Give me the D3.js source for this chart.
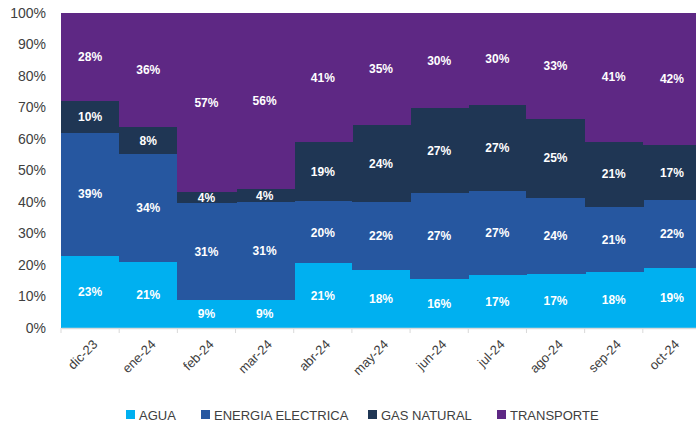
<!DOCTYPE html>
<html>
<head>
<meta charset="utf-8">
<script src="https://cdn.jsdelivr.net/npm/d3@7"></script>
<style>
  body { margin: 0; background: #fff; }
  text { font-family: "Liberation Sans", Arial, sans-serif; }
</style>
</head>
<body>
<div id="chart"></div>
<script>
// months and shares (%) per category
var months = ["dic-23", "ene-24", "feb-24", "mar-24", "abr-24", "may-24", "jun-24", "jul-24", "ago-24", "sep-24", "oct-24"];
var agua       = [23.0, 21.0,  8.9,  8.8, 20.5, 18.4, 15.6, 16.8, 17.1, 17.8, 19.1];
var energia    = [39.0, 34.3, 30.7, 31.1, 19.7, 21.6, 27.2, 26.6, 24.3, 20.7, 21.5];
var gas        = [10.0,  8.5,  3.5,  4.1, 18.7, 24.3, 27.0, 27.3, 25.1, 20.7, 17.5];
var transporte = [28.0, 36.2, 56.9, 56.0, 41.1, 35.7, 30.2, 29.3, 33.5, 40.8, 41.9];
var aguaLbl       = ["23%", "21%", "9%", "9%", "21%", "18%", "16%", "17%", "17%", "18%", "19%"];
var energiaLbl    = ["39%", "34%", "31%", "31%", "20%", "22%", "27%", "27%", "24%", "21%", "22%"];
var gasLbl        = ["10%", "8%", "4%", "4%", "19%", "24%", "27%", "27%", "25%", "21%", "17%"];
var transporteLbl = ["28%", "36%", "57%", "56%", "41%", "35%", "30%", "30%", "33%", "41%", "42%"];
var seriesNames = ["AGUA", "ENERGIA ELECTRICA", "GAS NATURAL", "TRANSPORTE"];
var colors = ["#00B0F0", "#2657A0", "#1F3654", "#5E2884"];
var yTicks = [0, 10, 20, 30, 40, 50, 60, 70, 80, 90, 100];

var svgWidth = 696, svgHeight = 427;
var margin = { top: 13, right: -5, bottom: 99, left: 61 };
var width = svgWidth - margin.left - margin.right;
var height = svgHeight - margin.top - margin.bottom;

var svg = d3.select("#chart").append("svg")
  .attr("width", svgWidth)
  .attr("height", svgHeight);

var chartGroup = svg.append("g")
  .attr("transform", `translate(${margin.left}, ${margin.top})`);

var rows = months.map(function(m, i) {
  return { month: m, AGUA: agua[i], "ENERGIA ELECTRICA": energia[i], "GAS NATURAL": gas[i], TRANSPORTE: transporte[i],
           labels: [aguaLbl[i], energiaLbl[i], gasLbl[i], transporteLbl[i]] };
});
var stacked = d3.stack().keys(seriesNames)(rows);

var xScale = d3.scaleBand().domain(months).range([0, width]).padding(0);
var yScale = d3.scaleLinear().domain([0, 100]).range([height, 0]);

// bars
stacked.forEach(function(layer, k) {
  chartGroup.append("g").selectAll("rect")
    .data(layer)
    .enter()
    .append("rect")
    .attr("x", d => Math.round(xScale(d.data.month)))
    .attr("y", d => yScale(d[1]))
    .attr("width", d => Math.round(xScale(d.data.month) + xScale.bandwidth()) - Math.round(xScale(d.data.month)) + 1)
    .attr("height", d => yScale(d[0]) - yScale(d[1]))
    .attr("shape-rendering", "crispEdges")
    .attr("fill", colors[k]);
});

// value labels
stacked.forEach(function(layer, k) {
  chartGroup.append("g").selectAll("text")
    .data(layer)
    .enter()
    .append("text")
    .attr("x", d => xScale(d.data.month) + xScale.bandwidth() / 2)
    .attr("y", d => yScale((d[0] + d[1]) / 2))
    .attr("dy", "0.35em")
    .attr("text-anchor", "middle")
    .attr("fill", "#fff")
    .attr("font-size", 12)
    .attr("font-weight", "bold")
    .text(d => d.data.labels[k]);
});

// y axis labels
chartGroup.append("g").selectAll("text")
  .data(yTicks)
  .enter()
  .append("text")
  .attr("x", -15)
  .attr("y", d => yScale(d))
  .attr("dy", "0.35em")
  .attr("text-anchor", "end")
  .attr("font-size", 14)
  .attr("fill", "#404040")
  .text(d => d + "%");

// x axis
var bottomAxis = d3.axisBottom(xScale).tickSize(0).tickFormat("");
chartGroup.append("g")
  .attr("transform", `translate(0, ${height})`)
  .call(bottomAxis)
  .select(".domain").attr("stroke", "#d9d9d9").attr("stroke-width", 1.5);

chartGroup.append("g").selectAll("line")
  .data(months)
  .enter()
  .append("line")
  .attr("x1", d => xScale(d))
  .attr("x2", d => xScale(d))
  .attr("y1", height)
  .attr("y2", height + 5)
  .attr("stroke", "#d9d9d9");

chartGroup.append("g").selectAll("text")
  .data(months)
  .enter()
  .append("text")
  .attr("transform", d => `translate(${xScale(d) + xScale.bandwidth() / 2 + 5}, ${height + 14}) rotate(-45)`)
  .attr("text-anchor", "end")
  .attr("dy", "0.35em")
  .attr("font-size", 13)
  .attr("fill", "#404040")
  .text(d => d);

// legend
var legendX = [126, 201, 368, 497];
var legend = svg.append("g").selectAll("g")
  .data(seriesNames)
  .enter()
  .append("g")
  .attr("transform", (d, i) => `translate(${legendX[i]}, 415)`);
legend.append("rect")
  .attr("x", 0).attr("y", -5)
  .attr("width", 9).attr("height", 9)
  .attr("fill", (d, i) => colors[i]);
legend.append("text")
  .attr("x", 13)
  .attr("dy", "0.35em")
  .attr("font-size", 13)
  .attr("fill", "#404040")
  .text(d => d);
</script>
</body>
</html>
